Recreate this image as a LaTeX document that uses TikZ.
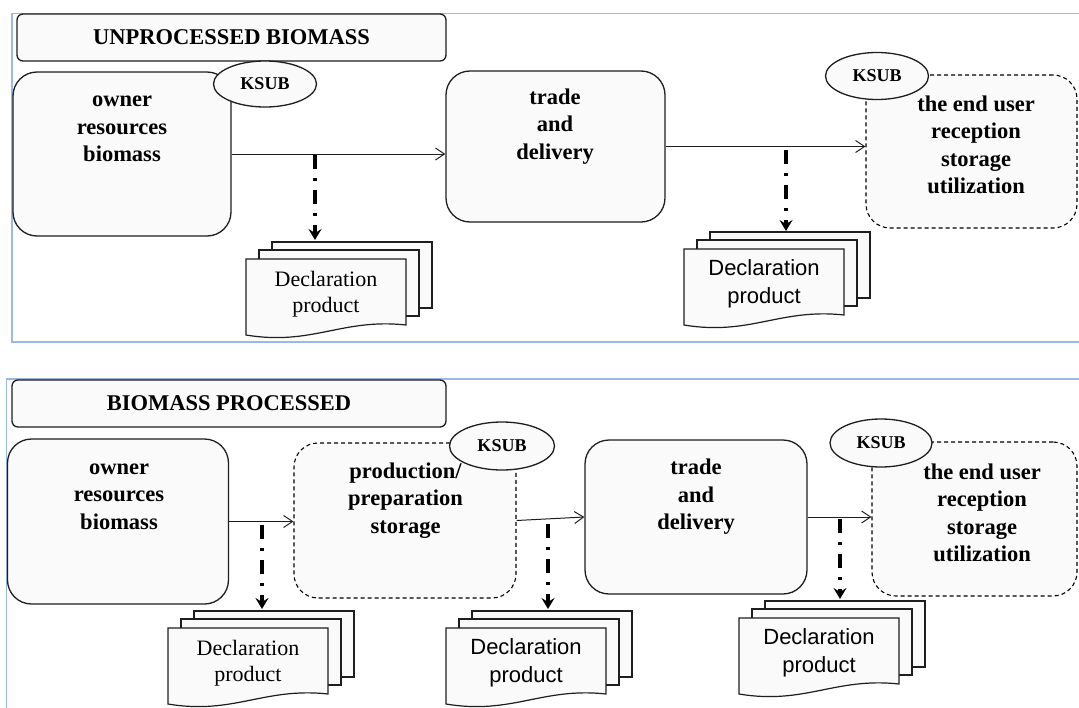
\documentclass[tikz,border=0pt]{standalone}
\usepackage{fontspec}
\setmainfont{Liberation Serif}
\setsansfont{Liberation Sans}
\usetikzlibrary{arrows.meta,positioning,shapes.geometric,calc}
\definecolor{frameblue}{RGB}{155,185,225}
\definecolor{boxfill}{RGB}{250,250,250}
\definecolor{boxline}{RGB}{30,30,30}

% stack of three declaration sheets: name, top-left of back sheet, text style
\newcommand{\declstack}[3]{%
  \begin{scope}[shift={#2}]
    \draw[sheet] (0,0) rectangle (160,66);
    \draw[sheet] (-13,8) rectangle (147,74);
    \draw[sheet] (-26,17) -- (134,17) -- (134,83) .. controls (70,76) and (40,104) .. (-26,93) -- cycle;
    \node[#3] (#1) at (54,52) {Declaration\\product};
  \end{scope}}

\begin{document}
\begin{tikzpicture}[
  x=1pt, y=-1pt,
  stage/.style={draw=boxline, line width=1.3pt, fill=boxfill, rounded corners=24pt, inner sep=0pt},
  stagedashed/.style={stage, draw=black, line width=1.1pt, dash pattern=on 4pt off 3pt},
  stagetext/.style={font=\bfseries\fontsize{22.5}{27.5}\selectfont, align=center, inner sep=0pt},
  headbox/.style={draw=boxline, line width=1.3pt, fill=boxfill, rounded corners=6pt, inner sep=0pt, font=\bfseries\fontsize{22.5}{27}\selectfont},
  ksub/.style={ellipse, draw=boxline, line width=1.3pt, fill=boxfill, inner sep=0pt, font=\bfseries\fontsize{18}{20}\selectfont},
  flow/.style={-{Straight Barb[length=9pt,width=12pt]}, line width=1pt, draw=boxline},
  declflow/.style={-{Stealth[length=11pt,width=13pt,inset=4pt]}, line width=3.2pt, dash pattern=on 14pt off 9pt on 3pt off 9pt},
  sheet/.style={draw=boxline, line width=1.2pt, fill=boxfill},
  declserif/.style={font=\fontsize{22}{26}\selectfont, align=center, inner sep=0pt},
  declsans/.style={font=\sffamily\fontsize{22}{28}\selectfont, align=center, inner sep=0pt},
  panel/.style={draw=frameblue, line width=1.6pt}
]
  \clip (0,0) rectangle (1079,707);

  % Panel frames
  \draw[panel] (12,13.5) rectangle (1100,342);
  \draw[panel] (6.5,379) rectangle (1100,730);

  % ---------- Unprocessed biomass ----------
  \node[headbox, minimum width=429pt, minimum height=47pt] (head1) at (231.5,37.5) {UNPROCESSED BIOMASS};

  \node[stage, minimum width=218pt, minimum height=164pt] (owner1) at (122,154) {};
  \node[stage, minimum width=219pt, minimum height=151pt] (trade1) at (555.5,146.5) {};
  \node[stagedashed, minimum width=211pt, minimum height=153pt] (end1) at (971.5,151.5) {};

  \node[stagetext] (owner1t) at (122,129) {owner\\resources\\biomass};
  \node[stagetext] (trade1t) at (555,126.5) {trade\\and\\delivery};
  \node[stagetext] (end1t) at (976,145) {the end user\\reception\\storage\\utilization};

  \node[ksub, minimum width=103pt, minimum height=46pt] (ksub1) at (265,84) {KSUB};
  \node[ksub, minimum width=103pt, minimum height=47pt] (ksub2) at (877,76) {KSUB};

  % Flows
  \draw[flow] (owner1.east) -- (owner1.east -| trade1.west);
  \draw[flow] (trade1.east) -- (trade1.east -| end1.west);

  % Declarations
  \declstack{decl1}{(272,242)}{declserif}
  \declstack{decl2}{(710,232)}{declsans}
  \coordinate (dd1s) at (315,155);
  \coordinate (dd1e) at (315,240);
  \coordinate (dd2s) at (786,150);
  \coordinate (dd2e) at (786,231);
  \draw[declflow] (dd1s) -- (dd1e);
  \draw[declflow] (dd2s) -- (dd2e);

  % ---------- Biomass processed ----------
  \node[headbox, minimum width=434pt, minimum height=47pt] (head2) at (229,403.5) {BIOMASS PROCESSED};

  \node[stage, minimum width=221pt, minimum height=165pt] (owner2) at (118,521.5) {};
  \node[stagedashed, minimum width=222pt, minimum height=155pt] (prod) at (405,520.5) {};
  \node[stage, minimum width=222pt, minimum height=154pt] (trade2) at (696,517) {};
  \node[stagedashed, minimum width=205pt, minimum height=154pt] (end2) at (974.5,519) {};

  \node[stagetext] (owner2t) at (119,496.7) {owner\\resources\\biomass};
  \node[stagetext] (prodt) at (405.5,500.3) {production/\\preparation\\storage};
  \node[stagetext] (trade2t) at (696,497) {trade\\and\\delivery};
  \node[stagetext] (end2t) at (982,512.7) {the end user\\reception\\storage\\utilization};

  \node[ksub, minimum width=105pt, minimum height=48pt] (ksub3) at (502,446) {KSUB};
  \node[ksub, minimum width=102pt, minimum height=48pt] (ksub4) at (881,443) {KSUB};

  % Flows
  \draw[flow] (owner2.east) -- (owner2.east -| prod.west);
  \draw[flow] (prod.east) -- (trade2.west);
  \draw[flow] (trade2.east) -- (trade2.east -| end2.west);

  % Declarations
  \declstack{decl3}{(194,611)}{declserif}
  \declstack{decl4}{(472,611)}{declsans}
  \declstack{decl5}{(765,601)}{declsans}
  \coordinate (dd3s) at (262,525);
  \coordinate (dd3e) at (262,609);
  \coordinate (dd4s) at (548,524);
  \coordinate (dd4e) at (548,609);
  \coordinate (dd5s) at (840,519);
  \coordinate (dd5e) at (840,599);
  \draw[declflow] (dd3s) -- (dd3e);
  \draw[declflow] (dd4s) -- (dd4e);
  \draw[declflow] (dd5s) -- (dd5e);

\end{tikzpicture}
\end{document}
